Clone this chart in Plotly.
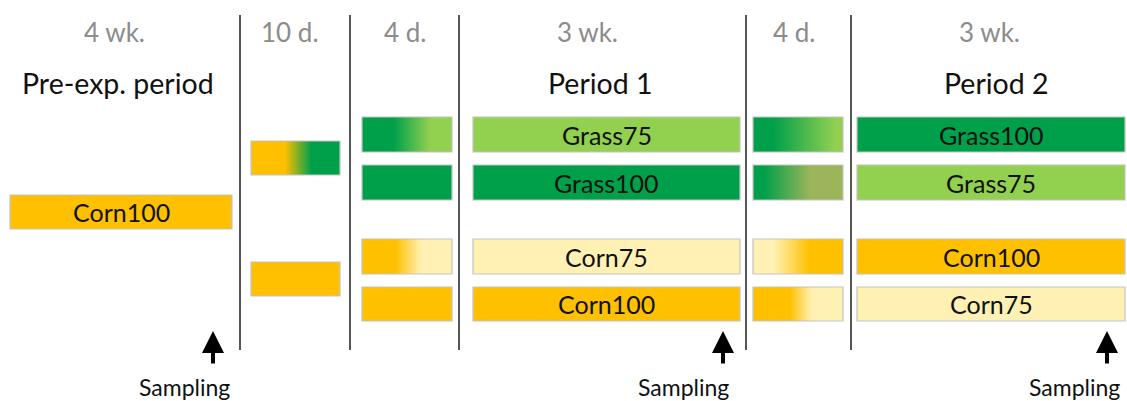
import numpy as np
import plotly.graph_objects as go

# ---------------- data ----------------
durations = ["4 wk.", "10 d.", "4 d.", "3 wk.", "4 d.", "3 wk."]
period_titles = ["Pre-exp. period", "", "", "Period 1", "", "Period 2"]

ORANGE = "#FFC000"
DGREEN = "#00A04A"
LGREEN = "#92D050"
LYELLOW = "#FFF1B4"
OLIVE = "#9DB55A"

# each box: (label, colour stops along the box)
pre_boxes = [("Corn100", [(0, ORANGE), (1, ORANGE)])]
adapt_boxes = [
    ("", [(0, ORANGE), (0.38, ORANGE), (0.68, DGREEN), (1, DGREEN)]),
    ("", [(0, ORANGE), (1, ORANGE)]),
]
trans1_boxes = [
    ("", [(0, DGREEN), (0.35, DGREEN), (0.76, LGREEN), (1, LGREEN)]),
    ("", [(0, DGREEN), (1, DGREEN)]),
    ("", [(0, ORANGE), (0.37, ORANGE), (0.66, LYELLOW), (1, LYELLOW)]),
    ("", [(0, ORANGE), (1, ORANGE)]),
]
period1_boxes = [
    ("Grass75", [(0, LGREEN), (1, LGREEN)]),
    ("Grass100", [(0, DGREEN), (1, DGREEN)]),
    ("Corn75", [(0, LYELLOW), (1, LYELLOW)]),
    ("Corn100", [(0, ORANGE), (1, ORANGE)]),
]
trans2_boxes = [
    ("", [(0, DGREEN), (0.22, DGREEN), (0.92, LGREEN), (1, LGREEN)]),
    ("", [(0, DGREEN), (0.12, DGREEN), (0.64, OLIVE), (1, OLIVE)]),
    ("", [(0, LYELLOW), (0.23, LYELLOW), (0.63, ORANGE), (1, ORANGE)]),
    ("", [(0, ORANGE), (0.41, ORANGE), (0.65, LYELLOW), (1, LYELLOW)]),
]
period2_boxes = [
    ("Grass100", [(0, DGREEN), (1, DGREEN)]),
    ("Grass75", [(0, LGREEN), (1, LGREEN)]),
    ("Corn100", [(0, ORANGE), (1, ORANGE)]),
    ("Corn75", [(0, LYELLOW), (1, LYELLOW)]),
]
sampling_labels = ["Sampling", "Sampling", "Sampling"]

# ---------------- layout geometry ----------------
W, H = 1127, 401
col_x = [(10, 232), (251, 340), (362, 452), (473, 740), (753, 843), (857, 1125)]
duration_center = [114, 290, 405, 587, 794, 989]
title_center = [118, 0, 0, 600, 0, 996]
four_rows = [(117, 152), (165, 200), (239, 274), (287, 321)]
adapt_rows = [(141, 175), (262, 296)]
pre_rows = [(195, 229)]
divider_x = [240, 350, 459, 746, 851]
arrow_x = [213, 723, 1107]
sampling_x = [184, 683, 1074]

columns = [
    (pre_boxes, pre_rows),
    (adapt_boxes, adapt_rows),
    (trans1_boxes, four_rows),
    (period1_boxes, four_rows),
    (trans2_boxes, four_rows),
    (period2_boxes, four_rows),
]

FONT = "Lato"
fig = go.Figure()
shapes = []
annotations = []

N = 120
for ci, (boxes, rows) in enumerate(columns):
    x0, x1 = col_x[ci]
    for (label, stops), (y0, y1) in zip(boxes, rows):
        edges = np.linspace(x0, x1, N + 1)
        t = np.linspace(0, 1, N)
        fig.add_trace(go.Heatmap(
            x=edges, y=[y0, y1], z=[t],
            colorscale=[[s, c] for s, c in stops],
            zmin=0, zmax=1, showscale=False, hoverinfo="skip",
        ))
        shapes.append(dict(type="rect", x0=x0, x1=x1, y0=y0, y1=y1,
                           line=dict(color="#C4C4C4", width=1.2),
                           fillcolor="rgba(0,0,0,0)", layer="above"))
        if label:
            annotations.append(dict(x=(x0 + x1) / 2, y=(y0 + y1) / 2, text=label,
                                    showarrow=False, font=dict(size=25, color="#111111", family=FONT)))

for xd in divider_x:
    shapes.append(dict(type="line", x0=xd, x1=xd, y0=15, y1=350,
                       line=dict(color="#555555", width=2), layer="above"))

for xd_, xt_, d, p in zip(duration_center, title_center, durations, period_titles):
    annotations.append(dict(x=xd_, y=32, text=d, showarrow=False,
                            font=dict(size=26, color="#8C8C8C", family=FONT)))
    if p:
        annotations.append(dict(x=xt_, y=83, text=p, showarrow=False,
                                font=dict(size=28.5, color="#111111", family=FONT)))

for ax_, sx, lab in zip(arrow_x, sampling_x, sampling_labels):
    annotations.append(dict(x=ax_, y=331, ax=ax_, ay=365, xref="x", yref="y",
                            axref="x", ayref="y", text="", showarrow=True,
                            arrowhead=2, arrowsize=1.1, arrowwidth=4, arrowcolor="#000000"))
    annotations.append(dict(x=sx, y=387, text=lab, showarrow=False,
                            font=dict(size=23, color="#111111", family=FONT)))

fig.update_layout(
    width=W, height=H, margin=dict(l=0, r=0, t=0, b=0),
    paper_bgcolor="white", plot_bgcolor="white",
    xaxis=dict(range=[0, W], visible=False, fixedrange=True),
    yaxis=dict(range=[H, 0], visible=False, fixedrange=True),
    shapes=shapes, annotations=annotations, showlegend=False,
)
fig.write_html("out.html", config={"displayModeBar": False},
               post_script="document.body.style.margin='0';document.body.style.overflow='hidden';")
